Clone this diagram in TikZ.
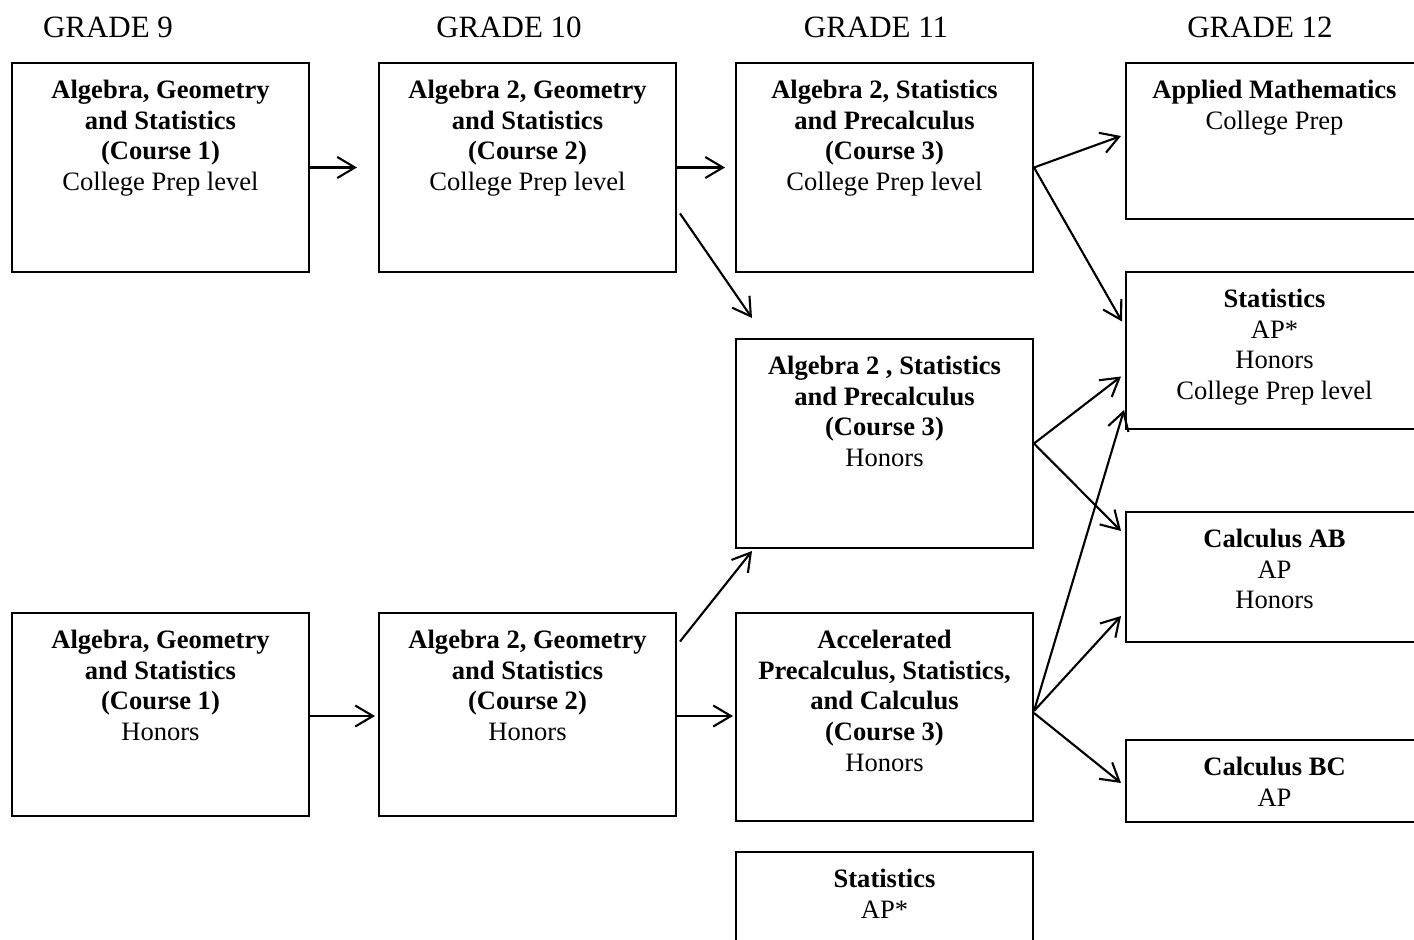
\documentclass[tikz,border=0pt]{standalone}
\usepackage{fontspec}
\setmainfont{Liberation Serif}
\usepackage{xcolor}
\usepackage{tikz}
\usetikzlibrary{arrows.meta,calc,positioning}

\newcommand{\px}{0.452pt}

\tikzset{
  course/.style={draw, line width=0.9pt, anchor=north west, inner sep=0pt,
    minimum width=297*\px},
  info/.style={anchor=north, align=center, inner sep=0pt,
    font=\fontsize{12}{13.8}\selectfont},
  grade/.style={font=\fontsize{14}{16}\selectfont, inner sep=0pt},
  path/.style={line width=0.95pt, -{Straight Barb[length=8pt,width=9.5pt,line width=0.95pt]}}
}

\begin{document}
\begin{tikzpicture}[x=\px, y=-\px]
  \clip (0,0) rectangle (1414,939);

  \node[grade] (gr9) at (108,27) {GRADE 9};
  \node[grade] (gr10) at (509,27) {GRADE 10};
  \node[grade] (gr11) at (876,27) {GRADE 11};
  \node[grade] (gr12) at (1260,27) {GRADE 12};

  \node[course, minimum height=209*\px] (g9cp) at (11,62) {};
  \node[course, minimum height=209*\px] (g10cp) at (378,62) {};
  \node[course, minimum height=209*\px] (g11cp) at (735,62) {};
  \node[course, minimum height=209*\px] (g11hon) at (735,338) {};
  \node[course, minimum height=203*\px] (g9hon) at (11,612) {};
  \node[course, minimum height=203*\px] (g10hon) at (378,612) {};
  \node[course, minimum height=208*\px] (g11acc) at (735,612) {};
  \node[course, minimum height=130*\px] (g11stat) at (735,851) {};
  \node[course, minimum height=156*\px] (applied) at (1125,62) {};
  \node[course, minimum height=157*\px] (stats) at (1125,271) {};
  \node[course, minimum height=130*\px] (calcab) at (1125,511) {};
  \node[course, minimum height=82*\px] (calcbc) at (1125,739) {};

  \node[info] (g9cptext) at ($(g9cp.north)+(0,18)$)
    {\textbf{Algebra, Geometry}\\\textbf{and Statistics}\\\textbf{(Course 1)}\\College Prep level};
  \node[info] (g10cptext) at ($(g10cp.north)+(0,18)$)
    {\textbf{Algebra 2, Geometry}\\\textbf{and Statistics}\\\textbf{(Course 2)}\\College Prep level};
  \node[info] (g11cptext) at ($(g11cp.north)+(0,18)$)
    {\textbf{Algebra 2, Statistics}\\\textbf{and Precalculus}\\\textbf{(Course 3)}\\College Prep level};
  \node[info] (g11hontext) at ($(g11hon.north)+(0,18)$)
    {\textbf{Algebra 2 , Statistics}\\\textbf{and Precalculus}\\\textbf{(Course 3)}\\Honors};
  \node[info] (g9hontext) at ($(g9hon.north)+(0,18)$)
    {\textbf{Algebra, Geometry}\\\textbf{and Statistics}\\\textbf{(Course 1)}\\Honors};
  \node[info] (g10hontext) at ($(g10hon.north)+(0,18)$)
    {\textbf{Algebra 2, Geometry}\\\textbf{and Statistics}\\\textbf{(Course 2)}\\Honors};
  \node[info] (g11acctext) at ($(g11acc.north)+(0,18)$)
    {\textbf{Accelerated}\\\textbf{Precalculus, Statistics,}\\\textbf{and Calculus}\\\textbf{(Course 3)}\\Honors};
  \node[info] (g11stattext) at ($(g11stat.north)+(0,18)$)
    {\textbf{Statistics}\\AP*};
  \node[info] (appliedtext) at ($(applied.north)+(0,18)$)
    {\textbf{Applied Mathematics}\\College Prep};
  \node[info] (statstext) at ($(stats.north)+(0,18)$)
    {\textbf{Statistics}\\AP*\\Honors\\College Prep level};
  \node[info] (calcabtext) at ($(calcab.north)+(0,18)$)
    {\textbf{Calculus AB}\\AP\\Honors};
  \node[info] (calcbctext) at ($(calcbc.north)+(0,18)$)
    {\textbf{Calculus BC}\\AP};

  \draw[path, shorten >=21*\px] (g9cp) -- (g10cp);
  \draw[path, shorten >=10*\px] (g10cp) -- (g11cp);
  \draw[path, shorten >=3*\px] ($(g9hon.east)+(0,1.5)$) -- ($(g10hon.west)+(0,1.5)$);
  \draw[path, shorten >=2*\px] ($(g10hon.east)+(0,1.5)$) -- ($(g10hon.east -| g11acc.west)+(0,1.5)$);
  \draw[path] ($(g10cp.east)+(3,46)$) -- ($(g11hon.north west)+(17,-20)$);
  \draw[path] ($(g10hon.east)+(3,-73)$) -- ($(g11hon.south west)+(17,2)$);
  \draw[path] (g11cp.east) -- ($(applied.west)+(-4,-5)$);
  \draw[path] (g11cp.east) -- ($(stats.west)+(-3,-29)$);
  \draw[path] (g11hon.east) -- ($(stats.west)+(-4,26)$);
  \draw[path] (g11hon.east) -- ($(calcab.west)+(-4,-46)$);
  \draw[path] ($(g11acc.east)+(0,-6)$) -- ($(stats.south west)+(-1,-20)$);
  \draw[path] ($(g11acc.east)+(0,-6)$) -- ($(calcab.west)+(-4,39)$);
  \draw[path] ($(g11acc.east)+(0,-4)$) -- ($(calcbc.west)+(-4,2)$);
\end{tikzpicture}
\end{document}
